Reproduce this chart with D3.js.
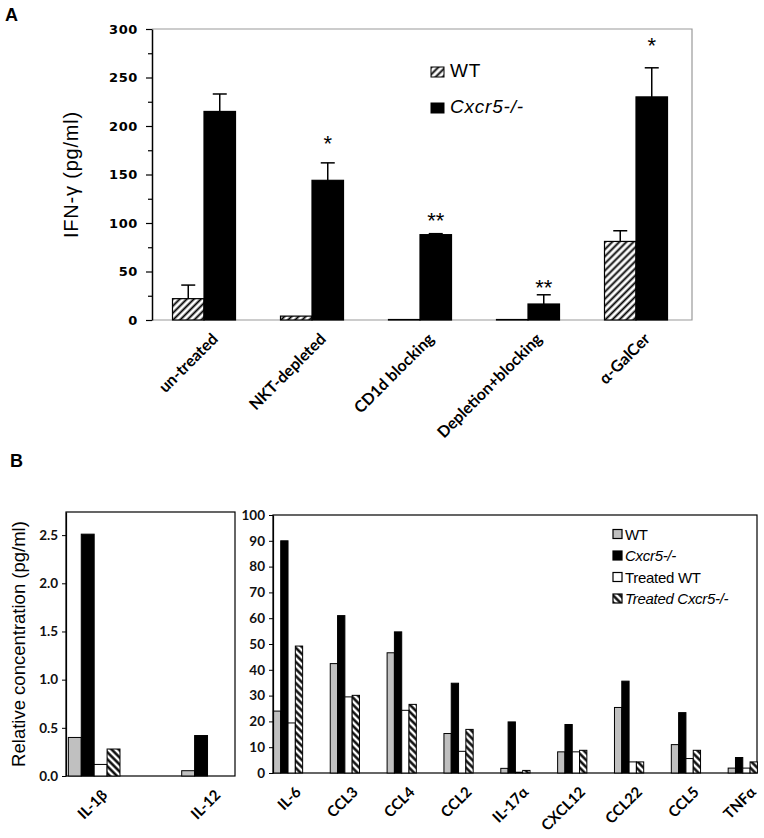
<!DOCTYPE html>
<html><head><meta charset="utf-8">
<script src="https://cdn.jsdelivr.net/npm/d3@7"></script>
<style>body{margin:0;background:#fff}</style>
</head><body><svg id="c" width="764" height="838"></svg>
<script>
// ---------- Panel A data ----------
const catsA = ["un-treated","NKT-depleted","CD1d blocking","Depletion+blocking","α-GalCer"];
const seriesA = ["WT","Cxcr5-/-"];
const wtA = [22, 4, 0.5, 0.5, 81];
const koA = [215, 144, 88, 16.5, 230];
const wtErrA = [14, 0, 0, 0, 11];
const koErrA = [18, 18, 1, 9.5, 30];
const starsA = ["", "*", "**", "**", "*"];
const starValA = [0, 186, 106, 37, 287];
const ticksA = [0,50,100,150,200,250,300];
const minorTicksA = [25,75,125,175,225,275];

// ---------- Panel B data ----------
const seriesB = ["WT","Cxcr5-/-","Treated WT","Treated Cxcr5-/-"];
const catsB1 = ["IL-1β","IL-12"];
const wtB1 = [0.40, 0.055];
const koB1 = [2.51, 0.42];
const twtB1 = [0.12, 0];
const tkoB1 = [0.28, 0];
const ticksB1 = [0,0.5,1.0,1.5,2.0,2.5];

const catsB2 = ["IL-6","CCL3","CCL4","CCL2","IL-17α","CXCL12","CCL22","CCL5","TNFα"];
const wtB2 = [24, 42.4, 46.6, 15.3, 1.8, 8.2, 25.4, 11, 1.9];
const koB2 = [90, 61, 54.7, 34.8, 19.8, 18.8, 35.6, 23.4, 6];
const twtB2 = [19.4, 29.5, 24.3, 8.4, 0.3, 8.2, 4.3, 5.6, 1.9];
const tkoB2 = [49.2, 30.1, 26.6, 16.9, 1.0, 8.8, 4.3, 8.8, 4.3];
const ticksB2 = [0,10,20,30,40,50,60,70,80,90,100];

const svg = d3.select("#c");
svg.append("rect").attr("width",764).attr("height",838).attr("fill","#fff");
const defs = svg.append("defs");
function hatch(id, w, sw, angle){
  const p = defs.append("pattern").attr("id",id).attr("patternUnits","userSpaceOnUse")
    .attr("width",w).attr("height",w).attr("patternTransform",`rotate(${angle})`);
  p.append("rect").attr("width",w).attr("height",w).attr("fill","#fff");
  p.append("line").attr("x1",w/2).attr("y1",-1).attr("x2",w/2).attr("y2",w+1)
    .attr("stroke","#000").attr("stroke-width",sw);
}
hatch("hA", 5, 1.9, 45);
hatch("hB", 5, 2.4, -45);

const fontCal = "Lato, 'Open Sans', sans-serif";
const fontArial = "'Liberation Sans', Arial, sans-serif";

// ---------- Panel A ----------
const A = {l:152, r:692, t:29, b:320};
const yA = d3.scaleLinear().domain([0,300]).range([A.b, A.t]);
const xA = d3.scaleBand().domain(catsA).range([150, 690]);
const subA = d3.scaleBand().domain(seriesA).range([0, xA.bandwidth()]).paddingInner(0).paddingOuter(0.714);
const gA = svg.append("g");

svg.append("text").attr("x",5).attr("y",21).text("A")
  .attr("font-family",fontArial).attr("font-weight","bold").attr("font-size",18);

// gray frame
gA.append("path").attr("d",`M${A.l},${A.t}H${A.r}V${A.b}H${A.l}`)
  .attr("fill","none").attr("stroke","#9a9a9a").attr("stroke-width",1.2);

const dataA = catsA.map((c,i)=>({c, vals:[{s:"WT",v:wtA[i],e:wtErrA[i]},{s:"Cxcr5-/-",v:koA[i],e:koErrA[i]}], star:starsA[i], sv:starValA[i]}));
const grpA = gA.selectAll("g.grp").data(dataA).join("g").attr("transform",d=>`translate(${xA(d.c)},0)`);
grpA.selectAll("rect").data(d=>d.vals).join("rect")
  .attr("x",d=>subA(d.s)).attr("width",subA.bandwidth())
  .attr("y",d=>yA(d.v)).attr("height",d=>yA(0)-yA(d.v))
  .attr("fill",d=>d.s==="WT"?"url(#hA)":"#000")
  .attr("stroke","#000").attr("stroke-width",1.2);
// error bars
grpA.selectAll("g.err").data(d=>d.vals.filter(v=>v.e>0)).join("g").each(function(d){
  const g = d3.select(this), cx = subA(d.s)+subA.bandwidth()/2;
  g.append("line").attr("x1",cx).attr("x2",cx).attr("y1",yA(d.v)).attr("y2",yA(d.v+d.e)).attr("stroke","#000").attr("stroke-width",1.5);
  g.append("line").attr("x1",cx-7).attr("x2",cx+7).attr("y1",yA(d.v+d.e)).attr("y2",yA(d.v+d.e)).attr("stroke","#000").attr("stroke-width",1.5);
});
grpA.filter(d=>d.star).append("text")
  .attr("x",subA("Cxcr5-/-")+subA.bandwidth()/2).attr("y",d=>yA(d.sv)+11)
  .attr("text-anchor","middle").attr("font-family",fontArial).attr("font-size",22)
  .text(d=>d.star);

// y axis
const axA = gA.append("g").attr("transform",`translate(${A.l},0)`)
  .call(d3.axisLeft(yA).tickValues(ticksA).tickSize(6).tickSizeOuter(0).tickPadding(8));
axA.select(".domain").attr("stroke","#000").attr("stroke-width",1.5);
axA.selectAll(".tick line").attr("stroke","#000").attr("stroke-width",1.2);
axA.selectAll(".tick text").attr("font-family","'DejaVu Sans', Verdana, sans-serif")
  .attr("font-weight","bold").attr("font-size",13).attr("letter-spacing",0.6).attr("fill","#000");
const axA2 = gA.append("g").attr("transform",`translate(${A.l},0)`)
  .call(d3.axisLeft(yA).tickValues(minorTicksA).tickSize(4).tickSizeOuter(0).tickFormat(""));
axA2.select(".domain").remove();
axA2.selectAll(".tick line").attr("stroke","#000").attr("stroke-width",1.2);

// x labels
gA.selectAll("text.xl").data(catsA).join("text")
  .attr("transform",d=>`translate(${xA(d)+xA.bandwidth()/2+15},${A.b+20}) rotate(-45)`)
  .attr("text-anchor","end").attr("font-family",fontCal).attr("font-weight","bold").attr("font-size",16)
  .text(d=>d);

// y label
gA.append("text").attr("transform",`translate(78,${(A.t+A.b)/2}) rotate(-90)`)
  .attr("text-anchor","middle").attr("font-family",fontArial).attr("font-size",20).attr("letter-spacing",0.8)
  .text("IFN-γ (pg/ml)");

// legend A
const legA = gA.append("g");
seriesA.forEach((s,i)=>{
  const y0 = 77 + i*36;
  legA.append("rect").attr("x",431).attr("y",y0-10).attr("width",13).attr("height",10)
    .attr("fill",i===0?"url(#hA)":"#000").attr("stroke","#000").attr("stroke-width",1);
  legA.append("text").attr("x",450).attr("y",y0).text(s)
    .attr("font-family",fontArial).attr("font-size",19).attr("letter-spacing",0.8)
    .attr("font-style",i===1?"italic":"normal");
});

// ---------- Panel B ----------
svg.append("text").attr("x",10).attr("y",467).text("B")
  .attr("font-family",fontArial).attr("font-weight","bold").attr("font-size",18);

const fills = {"WT":"#c0c0c0","Cxcr5-/-":"#000","Treated WT":"#fff","Treated Cxcr5-/-":"url(#hB)"};

function panelB(box, cats, arrs, yDomain, ticks, fmt, xRange, padOuter){
  const g = svg.append("g");
  const y = d3.scaleLinear().domain(yDomain).range([box.b, box.t]);
  const x = d3.scaleBand().domain(cats).range(xRange);
  const sub = d3.scaleBand().domain(seriesB).range([0, x.bandwidth()]).paddingInner(0).paddingOuter(padOuter);
  const data = cats.map((c,i)=>({c, vals: seriesB.map((s,j)=>({s, v: arrs[j][i]}))}));
  g.append("rect").attr("x",box.l).attr("y",box.t).attr("width",box.r-box.l).attr("height",box.b-box.t)
    .attr("fill","none").attr("stroke","#000").attr("stroke-width",1.2);
  const grp = g.selectAll("g.grp").data(data).join("g").attr("transform",d=>`translate(${x(d.c)},0)`);
  grp.selectAll("rect").data(d=>d.vals.filter(v=>v.v>0)).join("rect")
    .attr("x",d=>sub(d.s)).attr("width",sub.bandwidth())
    .attr("y",d=>y(d.v)).attr("height",d=>y(0)-y(d.v))
    .attr("fill",d=>fills[d.s]).attr("stroke","#000").attr("stroke-width",1);
  const ax = g.append("g").attr("transform",`translate(${box.l},0)`)
    .call(d3.axisLeft(y).tickValues(ticks).tickSize(4).tickSizeOuter(0).tickPadding(4).tickFormat(fmt));
  ax.select(".domain").attr("stroke","#000").attr("stroke-width",1.2);
  ax.selectAll(".tick line").attr("stroke","#000");
  ax.selectAll(".tick text").attr("font-family",fontCal).attr("font-weight","bold").attr("font-size",13.5).attr("fill","#111");
  g.selectAll("text.xl").data(cats).join("text")
    .attr("transform",d=>`translate(${x(d)+x.bandwidth()/2+14},${box.b+20}) rotate(-45)`)
    .attr("text-anchor","end").attr("font-family",fontCal).attr("font-weight","bold").attr("font-size",15)
    .text(d=>d);
  return g;
}

const BL = {l:66, r:235, t:512, b:776};
panelB(BL, catsB1, [wtB1,koB1,twtB1,tkoB1], [0,2.74], ticksB1, d3.format(".1f"), [37.5, 264.2], 2.39);
const BR = {l:273, r:757, t:515, b:773};
panelB(BR, catsB2, [wtB2,koB2,twtB2,tkoB2], [0,100], ticksB2, d3.format("d"), [259.6, 771.2], 1.89);

svg.append("text").attr("transform",`translate(25,${(BL.t+BL.b)/2}) rotate(-90)`)
  .attr("text-anchor","middle").attr("font-family",fontArial).attr("font-size",18.5)
  .text("Relative concentration (pg/ml)");

// legend B
const legB = svg.append("g");
seriesB.forEach((s,i)=>{
  const cy = 534 + i*21.5;
  legB.append("rect").attr("x",613).attr("y",cy-4.5).attr("width",9).attr("height",9)
    .attr("fill",fills[s]).attr("stroke","#000").attr("stroke-width",1.2);
  legB.append("text").attr("x",625).attr("y",cy+5.5).text(s)
    .attr("font-family",fontArial).attr("font-size",15).attr("letter-spacing",-0.3)
    .attr("font-style",(s.indexOf("Cxcr5")>=0)?"italic":"normal");
});
</script></body></html>
